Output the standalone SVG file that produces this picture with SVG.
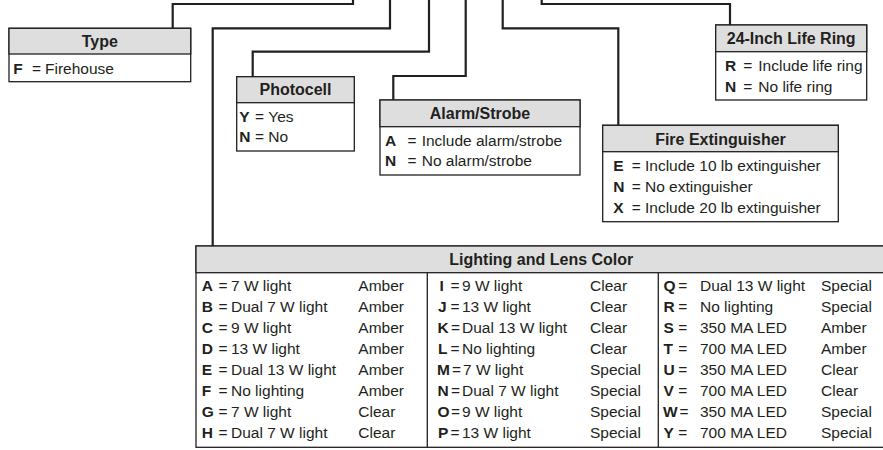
<svg xmlns="http://www.w3.org/2000/svg" width="883" height="450" viewBox="0 0 883 450">
<style>
.box{fill:#fff;stroke:#231f20;stroke-width:1.3}
.hdr{fill:#dedede;stroke:#231f20;stroke-width:1.3}
.conn{fill:none;stroke:#231f20;stroke-width:2.2;stroke-linejoin:miter}
text{font-family:"Liberation Sans",Arial,sans-serif;fill:#231f20}
.ht{font-size:16px;font-weight:bold;text-anchor:middle}
.t{font-size:15.5px}
.k{font-weight:bold}
</style>
<rect width="883" height="450" fill="#fff"/>
<g id="connectors">
<path class="conn" d="M172.7,28.3 V4 H353 V-3"/>
<path class="conn" d="M212.7,246 V28.3 H390 V-3"/>
<path class="conn" d="M252.7,76.7 V51.7 H429 V-3"/>
<path class="conn" d="M393.3,100 V76 H465.7 V-3"/>
<path class="conn" d="M618.3,125.3 V28.3 H502.7 V-3"/>
<path class="conn" d="M730,25 V4 H541.7 V-3"/>
</g>
<g id="type">
<rect class="box" x="9" y="28.3" width="181.7" height="53.4"/>
<rect class="hdr" x="9" y="28.3" width="181.7" height="25.7"/>
<text class="ht" x="99.8" y="47.2">Type</text>
<text class="t" y="73.5"><tspan class="k" x="13.3">F</tspan><tspan x="32">=</tspan><tspan x="45">Firehouse</tspan></text>
</g>
<g id="photocell">
<rect class="box" x="236.7" y="76.7" width="117.6" height="74.3"/>
<rect class="hdr" x="236.7" y="76.7" width="117.6" height="26"/>
<text class="ht" x="295.5" y="95.4">Photocell</text>
<text class="t" y="121.7"><tspan class="k" x="239.3">Y</tspan><tspan x="255">=</tspan><tspan x="268.3">Yes</tspan></text>
<text class="t" y="142"><tspan class="k" x="239.3">N</tspan><tspan x="255">=</tspan><tspan x="268.3">No</tspan></text>
</g>
<g id="alarm">
<rect class="box" x="380" y="100" width="200" height="75"/>
<rect class="hdr" x="380" y="100" width="200" height="26.7"/>
<text class="ht" x="480" y="118.9">Alarm/Strobe</text>
<text class="t" y="145.5"><tspan class="k" x="385">A</tspan><tspan x="407.5">=</tspan><tspan x="421.7">Include alarm/strobe</tspan></text>
<text class="t" y="166"><tspan class="k" x="385">N</tspan><tspan x="407.5">=</tspan><tspan x="421.7">No alarm/strobe</tspan></text>
</g>
<g id="fire">
<rect class="box" x="602.7" y="125.3" width="235.6" height="96.4"/>
<rect class="hdr" x="602.7" y="125.3" width="235.6" height="26.4"/>
<text class="ht" x="720.5" y="144.5">Fire Extinguisher</text>
<text class="t" y="171"><tspan class="k" x="613.3">E</tspan><tspan x="631.7">=</tspan><tspan x="645">Include 10 lb extinguisher</tspan></text>
<text class="t" y="191.8"><tspan class="k" x="613.3">N</tspan><tspan x="631.7">=</tspan><tspan x="645">No extinguisher</tspan></text>
<text class="t" y="212.6"><tspan class="k" x="613.3">X</tspan><tspan x="631.7">=</tspan><tspan x="645">Include 20 lb extinguisher</tspan></text>
</g>
<g id="lifering">
<rect class="box" x="715.7" y="25" width="151" height="75"/>
<rect class="hdr" x="715.7" y="25" width="151" height="26.7"/>
<text class="ht" x="791.2" y="43.9">24-Inch Life Ring</text>
<text class="t" y="71.3"><tspan class="k" x="725">R</tspan><tspan x="743.3">=</tspan><tspan x="758.3">Include life ring</tspan></text>
<text class="t" y="91.8"><tspan class="k" x="725">N</tspan><tspan x="743.3">=</tspan><tspan x="758.3">No life ring</tspan></text>
</g>
<g id="lighting">
<rect class="box" x="196" y="246" width="700" height="201.3"/>
<rect class="hdr" x="196" y="246" width="700" height="26.7"/>
<line x1="427.3" y1="272.7" x2="427.3" y2="447.3" stroke="#231f20" stroke-width="1.3"/>
<line x1="658.3" y1="272.7" x2="658.3" y2="447.3" stroke="#231f20" stroke-width="1.3"/>
<text class="ht" x="541.3" y="265">Lighting and Lens Color</text>
<text class="t" y="291"><tspan class="k" x="201.7">A</tspan><tspan x="218.5">=</tspan><tspan x="231">7 W light</tspan><tspan x="358.3">Amber</tspan></text>
<text class="t" y="312"><tspan class="k" x="201.7">B</tspan><tspan x="218.5">=</tspan><tspan x="231">Dual 7 W light</tspan><tspan x="358.3">Amber</tspan></text>
<text class="t" y="333"><tspan class="k" x="201.7">C</tspan><tspan x="218.5">=</tspan><tspan x="231">9 W light</tspan><tspan x="358.3">Amber</tspan></text>
<text class="t" y="354"><tspan class="k" x="201.7">D</tspan><tspan x="218.5">=</tspan><tspan x="231">13 W light</tspan><tspan x="358.3">Amber</tspan></text>
<text class="t" y="375"><tspan class="k" x="201.7">E</tspan><tspan x="218.5">=</tspan><tspan x="231">Dual 13 W light</tspan><tspan x="358.3">Amber</tspan></text>
<text class="t" y="396"><tspan class="k" x="201.7">F</tspan><tspan x="218.5">=</tspan><tspan x="231">No lighting</tspan><tspan x="358.3">Amber</tspan></text>
<text class="t" y="417"><tspan class="k" x="201.7">G</tspan><tspan x="218.5">=</tspan><tspan x="231">7 W light</tspan><tspan x="358.3">Clear</tspan></text>
<text class="t" y="438"><tspan class="k" x="201.7">H</tspan><tspan x="218.5">=</tspan><tspan x="231">Dual 7 W light</tspan><tspan x="358.3">Clear</tspan></text>
<text class="t" y="291"><tspan class="k" x="439.5">I</tspan><tspan x="450.5">=</tspan><tspan x="462">9 W light</tspan><tspan x="590">Clear</tspan></text>
<text class="t" y="312"><tspan class="k" x="438">J</tspan><tspan x="450.5">=</tspan><tspan x="462">13 W light</tspan><tspan x="590">Clear</tspan></text>
<text class="t" y="333"><tspan class="k" x="437.5">K</tspan><tspan x="451">=</tspan><tspan x="462">Dual 13 W light</tspan><tspan x="590">Clear</tspan></text>
<text class="t" y="354"><tspan class="k" x="438">L</tspan><tspan x="450.5">=</tspan><tspan x="462">No lighting</tspan><tspan x="590">Clear</tspan></text>
<text class="t" y="375"><tspan class="k" x="437">M</tspan><tspan x="452">=</tspan><tspan x="463">7 W light</tspan><tspan x="590">Special</tspan></text>
<text class="t" y="396"><tspan class="k" x="437.5">N</tspan><tspan x="451">=</tspan><tspan x="462">Dual 7 W light</tspan><tspan x="590">Special</tspan></text>
<text class="t" y="417"><tspan class="k" x="437.5">O</tspan><tspan x="451">=</tspan><tspan x="462">9 W light</tspan><tspan x="590">Special</tspan></text>
<text class="t" y="438"><tspan class="k" x="438">P</tspan><tspan x="450.5">=</tspan><tspan x="462">13 W light</tspan><tspan x="590">Special</tspan></text>
<text class="t" y="291"><tspan class="k" x="663.5">Q</tspan><tspan x="678.3">=</tspan><tspan x="700">Dual 13 W light</tspan><tspan x="821">Special</tspan></text>
<text class="t" y="312"><tspan class="k" x="663.5">R</tspan><tspan x="678.3">=</tspan><tspan x="700">No lighting</tspan><tspan x="821">Special</tspan></text>
<text class="t" y="333"><tspan class="k" x="663.5">S</tspan><tspan x="678.3">=</tspan><tspan x="700">350 MA LED</tspan><tspan x="821">Amber</tspan></text>
<text class="t" y="354"><tspan class="k" x="663.5">T</tspan><tspan x="678.3">=</tspan><tspan x="700">700 MA LED</tspan><tspan x="821">Amber</tspan></text>
<text class="t" y="375"><tspan class="k" x="663.5">U</tspan><tspan x="678.3">=</tspan><tspan x="700">350 MA LED</tspan><tspan x="821">Clear</tspan></text>
<text class="t" y="396"><tspan class="k" x="663.5">V</tspan><tspan x="678.3">=</tspan><tspan x="700">700 MA LED</tspan><tspan x="821">Clear</tspan></text>
<text class="t" y="417"><tspan class="k" x="663">W</tspan><tspan x="679.5">=</tspan><tspan x="700">350 MA LED</tspan><tspan x="821">Special</tspan></text>
<text class="t" y="438"><tspan class="k" x="663.5">Y</tspan><tspan x="678.3">=</tspan><tspan x="700">700 MA LED</tspan><tspan x="821">Special</tspan></text>
</g>
</svg>
